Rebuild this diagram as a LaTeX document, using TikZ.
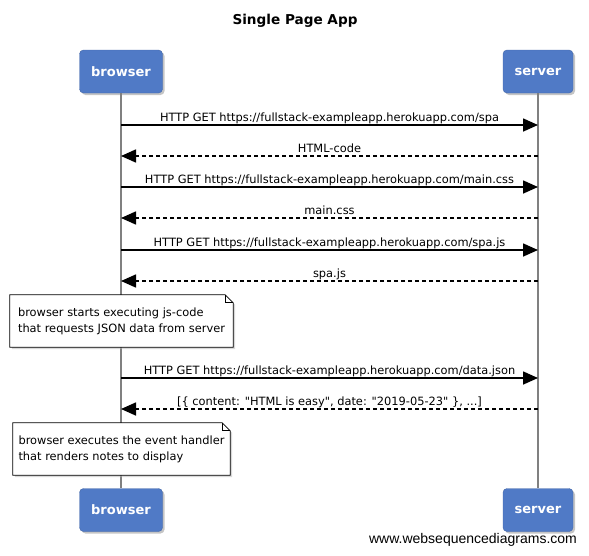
\documentclass[tikz,border=0pt]{standalone}
\usepackage{fontspec}
\setmainfont{DejaVu Sans}
\newfontfamily\footfont{Liberation Sans}
\usepackage{tikz}
\usetikzlibrary{arrows.meta,shadows}

\definecolor{actorblue}{RGB}{80,122,198}
\definecolor{lifegray}{RGB}{128,128,128}

\tikzset{
  actor/.style={draw=actorblue!85!black, fill=actorblue, rounded corners=4pt,
    minimum height=43pt, text=white, font=\fontsize{13}{15}\selectfont\bfseries,
    drop shadow={shadow xshift=2pt, shadow yshift=-2pt, fill=black!45}},
  lifeline/.style={draw=lifegray, line width=1.5pt},
  req/.style={line width=1.6pt, -{Triangle[length=15pt,width=13pt]}},
  resp/.style={req, dash pattern=on 4pt off 3pt},
  lbl/.style={pos=0.5, anchor=base, yshift=3.6pt, inner sep=0pt,
    font=\fontsize{11.4}{13}\selectfont},
  notetext/.style={inner sep=0pt, align=left, font=\fontsize{11.4}{16}\selectfont},
  notebox/.style={draw=black, line width=0.8pt, fill=white,
    drop shadow={shadow xshift=2pt, shadow yshift=-2pt, fill=black!30}}
}

\begin{document}
\begin{tikzpicture}[x=1pt,y=-1pt]
  \useasboundingbox (0,0) rectangle (589,555);

  \node[font=\fontsize{13.6}{16}\selectfont\bfseries] (title) at (295,21) {Single Page App};

  %participants
  \node[actor, minimum width=83pt] (browserTop) at (121,71.5) {browser};
  \node[actor, minimum width=70pt] (serverTop) at (538,71.5) {server};
  \node[actor, minimum width=83pt] (browserBot) at (121,510) {browser};
  \node[actor, minimum width=70pt] (serverBot) at (538,510) {server};

  %lifelines
  \draw[lifeline] (browserTop) -- (browserBot);
  \draw[lifeline] (serverTop) -- (serverBot);

  \foreach \n/\y in {1/125,2/156,3/187,4/218,5/250,6/281,7/378,8/409}{
    \coordinate (b\n) at (121,\y);
    \coordinate (s\n) at (538,\y);
  }

  %messages
  \draw[req] (b1) -- node[lbl] {HTTP GET https://fullstack-exampleapp.herokuapp.com/spa} (s1);
  \draw[resp] (s2) -- node[lbl] {HTML-code} (b2);
  \draw[req] (b3) -- node[lbl] {HTTP GET https://fullstack-exampleapp.herokuapp.com/main.css} (s3);
  \draw[resp] (s4) -- node[lbl] {main.css} (b4);
  \draw[req] (b5) -- node[lbl] {HTTP GET https://fullstack-exampleapp.herokuapp.com/spa.js} (s5);
  \draw[resp] (s6) -- node[lbl] {spa.js} (b6);
  \draw[req] (b7) -- node[lbl] {HTTP GET https://fullstack-exampleapp.herokuapp.com/data.json} (s7);
  \draw[resp] (s8) -- node[lbl] {[\{ content: \textquotedbl HTML is easy\textquotedbl, date: \textquotedbl 2019-05-23\textquotedbl\ \}, ...]} (b8);

  %notes
  \node[minimum width=223pt, minimum height=52pt, inner sep=0pt] (note1) at (121.5,321) {};
  \draw[notebox] (note1.south west) -- (note1.north west) -- ([xshift=-8pt]note1.north east)
    -- ([yshift=-8pt]note1.north east) -- (note1.south east) -- cycle;
  \draw[line width=0.8pt] ([xshift=-8pt]note1.north east) |- ([yshift=-8pt]note1.north east);
  \node[notetext] (note1text) at (note1) {browser starts executing js-code\\that requests JSON data from server};

  \node[minimum width=217pt, minimum height=52pt, inner sep=0pt] (note2) at (121.5,449) {};
  \draw[notebox] (note2.south west) -- (note2.north west) -- ([xshift=-8pt]note2.north east)
    -- ([yshift=-8pt]note2.north east) -- (note2.south east) -- cycle;
  \draw[line width=0.8pt] ([xshift=-8pt]note2.north east) |- ([yshift=-8pt]note2.north east);
  \node[notetext] (note2text) at (note2) {browser executes the event handler\\that renders notes to display};

  \node[font=\footfont\fontsize{14}{16}\selectfont] (footer) at (473,540) {www.websequencediagrams.com};
\end{tikzpicture}
\end{document}
